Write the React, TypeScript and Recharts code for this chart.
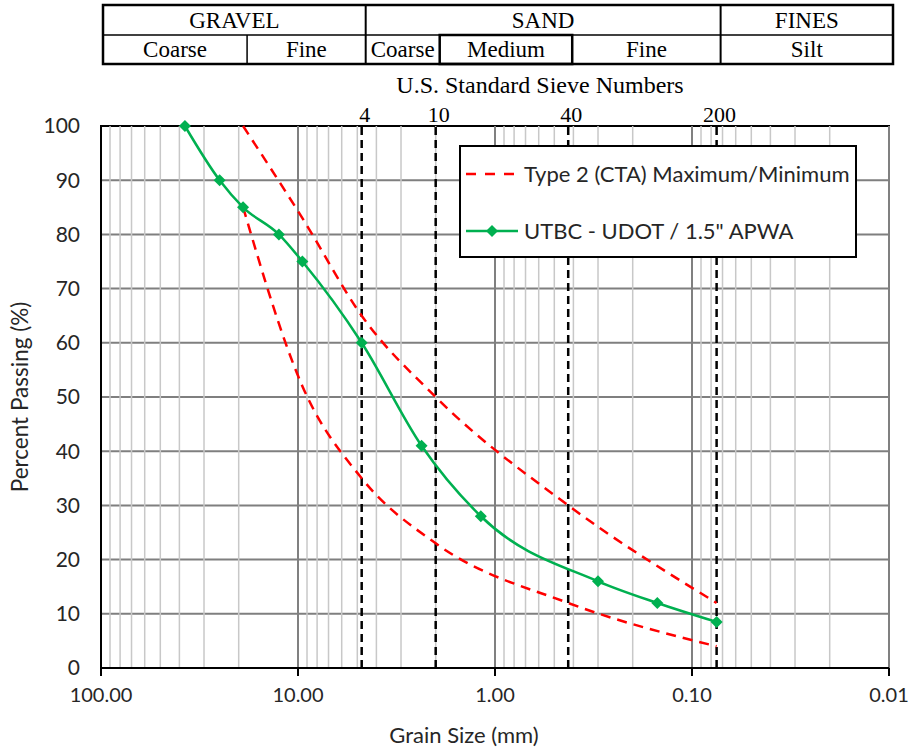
import React from 'react';
import {
  ComposedChart,
  Line,
  XAxis,
  YAxis,
  CartesianGrid,
  ReferenceLine,
  ReferenceArea
} from 'recharts';

// grain size (mm) on a log axis, percent passing on y
const xTicks = [100, 10, 1, 0.1, 0.01];
const yTicks = [0, 10, 20, 30, 40, 50, 60, 70, 80, 90, 100];

const gradationSizes = [37.5, 25, 19, 12.5, 9.5, 4.75, 2.36, 1.18, 0.3, 0.15, 0.075];
const gradationPassing = [100, 90, 85, 80, 75, 60, 41, 28, 16, 12, 8.5];

const specSizes = [19, 9.5, 4.75, 2.0, 0.425, 0.075];
const specMax = [100, 83, 65, 50, 30, 12];
const specMin = [85, 52, 35, 23, 12, 4];

const sieveNumbers = ['4', '10', '40', '200'];
const sieveSizes = [4.75, 2.0, 0.425, 0.075];

const headerTop = [
  { label: 'GRAVEL', from: 100, to: 4.75 },
  { label: 'SAND', from: 4.75, to: 0.075 },
  { label: 'FINES', from: 0.075, to: 0.01 }
];
const headerBottom = [
  { label: 'Coarse', from: 100, to: 19 },
  { label: 'Fine', from: 19, to: 4.75 },
  { label: 'Coarse', from: 4.75, to: 2.0 },
  { label: 'Medium', from: 2.0, to: 0.425 },
  { label: 'Fine', from: 0.425, to: 0.075 },
  { label: 'Silt', from: 0.075, to: 0.01 }
];

const gradation = gradationSizes.map((size, i) => ({ size, pct: gradationPassing[i] }));
const maxLine = specSizes.map((size, i) => ({ size, pct: specMax[i] }));
const minLine = specSizes.map((size, i) => ({ size, pct: specMin[i] }));

// light gridlines at 2..9 of every decade
const minorLines: number[] = [];
[0.01, 0.1, 1, 10].forEach((d) => {
  for (let m = 2; m <= 9; m++) minorLines.push(+(m * d).toPrecision(3));
});

const W = 912;
const H = 751;
const plotLeft = 101;
const plotRight = 889;
const plotTop = 126;
const plotBottom = 668;

const sans = 'Lato, "Open Sans", sans-serif';
const serif = '"Liberation Serif", "Times New Roman", serif';
const green = '#00b050';
const red = '#ff0000';

// header table follows the same log mapping as the x axis
const toPx = (d: number) =>
  plotLeft + ((2 - Math.log10(d)) / 4) * (plotRight - plotLeft) + 4;

const Diamond = (props: any) => {
  const { cx, cy } = props;
  if (cx == null || cy == null) return null;
  return (
    <path
      d={`M${cx},${cy - 6}L${cx + 6},${cy}L${cx},${cy + 6}L${cx - 6},${cy}Z`}
      fill={green}
    />
  );
};

const SoilHeader: React.FC = () => {
  const left = 103;
  const right = 893;
  const cellX = (d: number) => (d >= 100 ? left : d <= 0.01 ? right : toPx(d));
  return (
    <svg width={W} height={70} style={{ position: 'absolute', left: 0, top: 0 }}>
      <rect x={left} y={5} width={right - left} height={59} fill="#fff" stroke="#000" strokeWidth={2.5} />
      <line x1={left} x2={right} y1={35} y2={35} stroke="#000" strokeWidth={1.5} />
      {[4.75, 0.075].map((d) => (
        <line key={d} x1={toPx(d)} x2={toPx(d)} y1={5} y2={64} stroke="#000" strokeWidth={2} />
      ))}
      <line x1={toPx(19)} x2={toPx(19)} y1={35} y2={64} stroke="#000" strokeWidth={1.5} />
      <rect
        x={toPx(2.0)}
        y={35}
        width={toPx(0.425) - toPx(2.0)}
        height={29}
        fill="none"
        stroke="#000"
        strokeWidth={2.5}
      />
      {headerTop.map((c) => (
        <text
          key={c.label}
          x={(cellX(c.from) + cellX(c.to)) / 2}
          y={28}
          textAnchor="middle"
          fontFamily={serif}
          fontSize={23}
        >
          {c.label}
        </text>
      ))}
      {headerBottom.map((c, i) => (
        <text
          key={i}
          x={(cellX(c.from) + cellX(c.to)) / 2}
          y={57}
          textAnchor="middle"
          fontFamily={serif}
          fontSize={23}
        >
          {c.label}
        </text>
      ))}
    </svg>
  );
};

const LegendBox: React.FC = () => (
  <div
    style={{
      position: 'absolute',
      left: 459,
      top: 145,
      width: 398,
      height: 113,
      boxSizing: 'border-box',
      border: '2px solid #000',
      background: '#fff'
    }}
  >
    <svg width={396} height={111} style={{ position: 'absolute', left: 0, top: 0 }}>
      <line x1={5} x2={57} y1={27} y2={27} stroke={red} strokeWidth={2.5} strokeDasharray="10 9" />
      <text x={63} y={35} fontFamily={sans} fontSize={22} fill="#262626">
        Type 2 (CTA) Maximum/Minimum
      </text>
      <line x1={5} x2={57} y1={84} y2={84} stroke={green} strokeWidth={2.5} />
      <Diamond cx={31} cy={84} />
      <text x={63} y={92} fontFamily={sans} fontSize={22} fill="#262626">
        UTBC - UDOT / 1.5" APWA
      </text>
    </svg>
  </div>
);

const App: React.FC = () => {
  return (
    <div style={{ position: 'absolute', left: 0, top: 0, width: W, height: H, background: '#fff' }}>
      <SoilHeader />
      <div
        style={{
          position: 'absolute',
          left: 340,
          width: 400,
          top: 72,
          textAlign: 'center',
          fontFamily: serif,
          fontSize: 24
        }}
      >
        U.S. Standard Sieve Numbers
      </div>
      <div style={{ position: 'absolute', left: 0, top: 0 }}>
        <ComposedChart
          width={W}
          height={H}
          margin={{ top: plotTop, right: W - plotRight, bottom: 0, left: 0 }}
        >
          <CartesianGrid vertical={false} stroke="#7f7f7f" strokeWidth={2} />
          {minorLines.map((v) => (
            <ReferenceLine key={`m${v}`} x={v} stroke="#c8c8c8" strokeWidth={1.5} />
          ))}
          {xTicks.map((v) => (
            <ReferenceLine key={`M${v}`} x={v} stroke="#808080" strokeWidth={2} />
          ))}
          <XAxis
            dataKey="size"
            type="number"
            scale="log"
            domain={[0.01, 100]}
            reversed
            allowDataOverflow
            ticks={xTicks}
            interval={0}
            tickFormatter={(v: number) => v.toFixed(2)}
            tick={{ fontSize: 20, fill: '#262626', fontFamily: sans }}
            tickLine={{ stroke: '#000', strokeWidth: 2 }}
            tickSize={8}
            tickMargin={12}
            axisLine={{ stroke: '#000', strokeWidth: 2 }}
            height={H - plotBottom}
            label={{
              value: 'Grain Size (mm)',
              position: 'insideBottom',
              offset: 8,
              dx: -31,
              fontSize: 22,
              fill: '#262626',
              fontFamily: sans
            }}
          />
          <YAxis
            type="number"
            domain={[0, 100]}
            ticks={yTicks}
            interval={0}
            width={plotLeft}
            tick={{ fontSize: 21, fill: '#262626', fontFamily: sans }}
            tickLine={false}
            tickMargin={15}
            axisLine={{ stroke: '#000', strokeWidth: 2 }}
            label={{
              value: 'Percent Passing (%)',
              angle: -90,
              position: 'insideLeft',
              offset: 20,
              fontSize: 22.5,
              fill: '#262626',
              fontFamily: sans,
              style: { textAnchor: 'middle' }
            }}
          />
          {sieveSizes.map((s, i) => (
            <ReferenceLine
              key={`s${s}`}
              x={s}
              stroke="#000"
              strokeWidth={2.5}
              strokeDasharray="8 5"
              label={{
                value: sieveNumbers[i],
                position: 'top',
                offset: 4,
                dx: 3,
                fontSize: 22,
                fill: '#000',
                fontFamily: serif
              }}
            />
          ))}
          <ReferenceArea
            x1={100}
            x2={0.01}
            y1={0}
            y2={100}
            fill="none"
            stroke="#000"
            strokeWidth={2}
            ifOverflow="visible"
          />
          <Line
            data={maxLine}
            dataKey="pct"
            type="monotone"
            stroke={red}
            strokeWidth={2.5}
            strokeDasharray="10 7"
            dot={false}
            isAnimationActive={false}
          />
          <Line
            data={minLine}
            dataKey="pct"
            type="monotone"
            stroke={red}
            strokeWidth={2.5}
            strokeDasharray="10 7"
            dot={false}
            isAnimationActive={false}
          />
          <Line
            data={gradation}
            dataKey="pct"
            type="monotone"
            stroke={green}
            strokeWidth={2.5}
            dot={(p: any) => <Diamond key={`g${p.index}`} {...p} />}
            isAnimationActive={false}
          />
        </ComposedChart>
      </div>
      <LegendBox />
    </div>
  );
};

export default App;
